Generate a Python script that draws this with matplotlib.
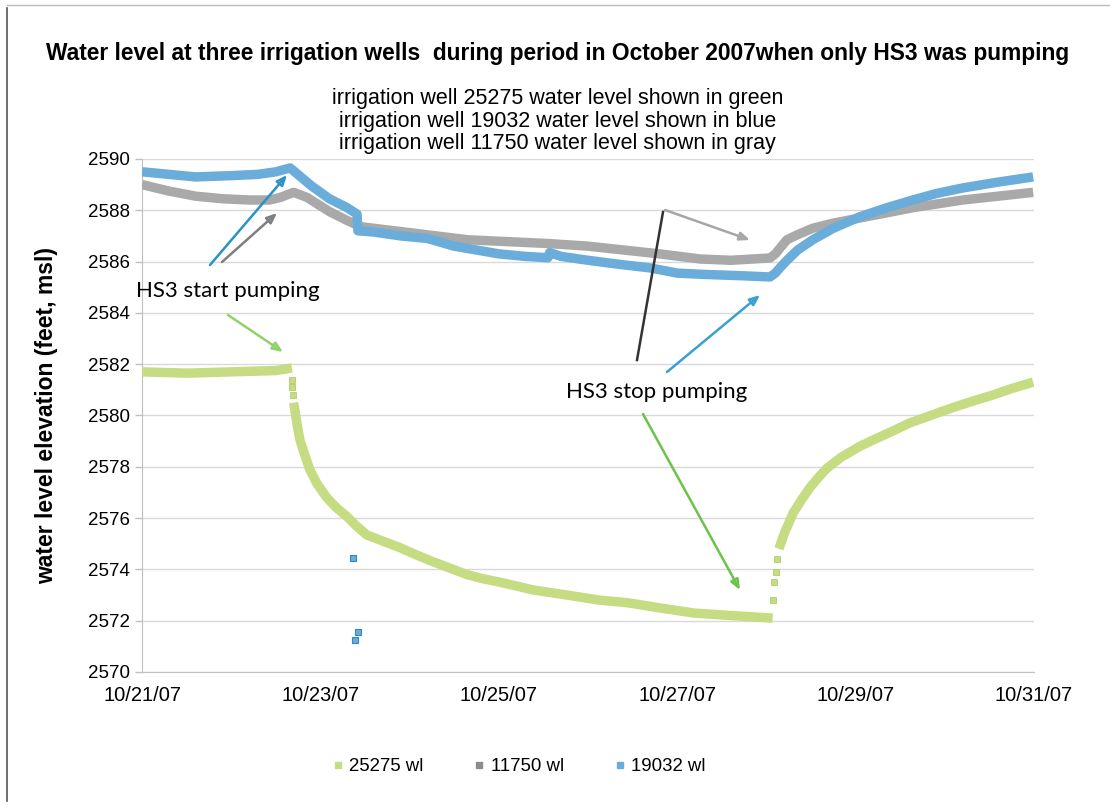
import numpy as np
import pandas as pd
import matplotlib
matplotlib.use("Agg")
from matplotlib import pyplot as plt
import matplotlib.dates as mdates
from matplotlib.lines import Line2D

# days after 10/21/07 and water level (feet, msl)
blue_t = [0.0, 0.3, 0.6, 1.0, 1.3, 1.5, 1.66, 1.9, 2.1, 2.3, 2.41, 2.42, 2.6, 2.9, 3.2,
          3.5, 4.0, 4.3, 4.55, 4.57, 4.7, 5.0, 5.33, 5.7, 6.0, 6.3, 6.7, 7.04, 7.1,
          7.15, 7.23, 7.35, 7.52, 7.75, 8.05, 8.35, 8.64, 8.9, 9.2, 9.6, 9.99]
blue_v = [2589.5, 2589.4, 2589.3, 2589.35, 2589.4, 2589.5, 2589.65, 2588.95, 2588.45,
          2588.1, 2587.85, 2587.2, 2587.15, 2587.0, 2586.9, 2586.6, 2586.3, 2586.2,
          2586.15, 2586.35, 2586.2, 2586.05, 2585.9, 2585.75, 2585.55, 2585.5, 2585.45,
          2585.4, 2585.55, 2585.75, 2586.05, 2586.45, 2586.85, 2587.3, 2587.75, 2588.1,
          2588.4, 2588.65, 2588.87, 2589.1, 2589.3]
blue_out_t = [2.37, 2.39, 2.42]
blue_out_v = [2574.45, 2571.25, 2571.55]

gray_t = [0.0, 0.3, 0.6, 0.9, 1.2, 1.43, 1.55, 1.7, 1.85, 2.1, 2.3, 2.45, 2.9, 3.65,
          4.57, 5.0, 5.8, 6.26, 6.6, 7.04, 7.1, 7.17, 7.23, 7.35, 7.52, 7.75, 8.05,
          8.35, 8.64, 9.2, 9.6, 9.99]
gray_v = [2589.0, 2588.75, 2588.55, 2588.45, 2588.4, 2588.4, 2588.5, 2588.7, 2588.5,
          2587.95, 2587.6, 2587.36, 2587.17, 2586.85, 2586.7, 2586.6, 2586.3, 2586.1,
          2586.05, 2586.14, 2586.3, 2586.6, 2586.85, 2587.05, 2587.3, 2587.5, 2587.7,
          2587.9, 2588.1, 2588.4, 2588.55, 2588.7]

green_flat_t = [0.0, 0.5, 1.0, 1.5, 1.68]
green_flat_v = [2581.7, 2581.65, 2581.7, 2581.75, 2581.85]
green_drop_t = [1.68, 1.685, 1.69]
green_drop_v = [2581.4, 2581.1, 2580.8]
green_fall_t = [1.70, 1.74, 1.77, 1.82, 1.88, 1.96, 2.07, 2.18, 2.3, 2.4, 2.52, 2.7,
                2.89, 3.05, 3.26, 3.45, 3.64, 3.8, 4.01, 4.2, 4.38, 4.76, 5.13, 5.44,
                5.8, 6.18, 6.6, 7.07]
green_fall_v = [2580.5, 2579.6, 2579.05, 2578.5, 2577.9, 2577.35, 2576.8, 2576.4,
                2576.05, 2575.7, 2575.34, 2575.1, 2574.85, 2574.6, 2574.3, 2574.05,
                2573.8, 2573.65, 2573.5, 2573.35, 2573.2, 2573.0, 2572.8, 2572.7,
                2572.5, 2572.3, 2572.2, 2572.1]
green_jump_t = [7.07, 7.09, 7.11, 7.12]
green_jump_v = [2572.8, 2573.5, 2573.9, 2574.4]
green_rise_t = [7.14, 7.2, 7.25, 7.3, 7.4, 7.49, 7.6, 7.68, 7.85, 8.05, 8.2, 8.42,
                8.6, 8.8, 9.0, 9.17, 9.35, 9.54, 9.75, 9.99]
green_rise_v = [2574.8, 2575.4, 2575.8, 2576.2, 2576.75, 2577.2, 2577.65, 2577.95,
                2578.4, 2578.8, 2579.05, 2579.4, 2579.7, 2579.95, 2580.2, 2580.4,
                2580.6, 2580.8, 2581.05, 2581.3]

start = pd.Timestamp("2007-10-21")


def days(t):
    return start + pd.to_timedelta(np.asarray(t), unit="D")


GREEN = "#c5dc82"
GRAY = "#a9a9a9"
BLUE = "#6badda"

fig = plt.figure(figsize=(11.15, 8.09), dpi=100)
ax = fig.add_axes([0.1274, 0.1694, 0.80, 0.6341])

lw = 6.8
for t, v in [(green_flat_t, green_flat_v), (green_fall_t, green_fall_v),
             (green_rise_t, green_rise_v)]:
    ax.plot(days(t), v, color=GREEN, lw=lw, solid_capstyle="butt", zorder=3)
for t, v in [(green_drop_t, green_drop_v), (green_jump_t, green_jump_v)]:
    ax.plot(days(t), v, "s", color=GREEN, ms=4, mec="#b3cc6c", mew=0.6, zorder=3)
ax.plot(days(gray_t), gray_v, color=GRAY, lw=lw, solid_capstyle="butt", zorder=3)
ax.plot(days(blue_t), blue_v, color=BLUE, lw=lw, solid_capstyle="butt", zorder=4)
ax.plot(days(blue_out_t), blue_out_v, "s", color=BLUE, ms=4.5, mec="#2f86c4", mew=0.8,
        zorder=4)

ax.set_xlim(days([0.0])[0], days([10.0])[0])
ax.set_ylim(2570, 2590)
ax.set_yticks(np.arange(2570, 2591, 2))
ax.xaxis.set_major_locator(mdates.DayLocator(bymonthday=[21, 23, 25, 27, 29, 31]))
ax.xaxis.set_major_formatter(mdates.DateFormatter("%m/%d/%y"))
ax.grid(axis="y", color="#d9d9d9", lw=1)
ax.set_axisbelow(True)
for s in ["top", "right"]:
    ax.spines[s].set_visible(False)
for s in ["left", "bottom"]:
    ax.spines[s].set_color("#bfbfbf")
ax.tick_params(axis="both", colors="#bfbfbf", labelcolor="black", labelsize=13.5,
               length=5, width=1, labelfontfamily="Liberation Sans")
ax.tick_params(axis="x", pad=10, length=0, labelsize=14.5)
ax.set_ylabel("water level elevation (feet, msl)", fontsize=16.5, fontweight="bold",
              family="Liberation Sans", labelpad=22)

fig.text(0.5, 0.934, "Water level at three irrigation wells  during period in October 2007"
         "when only HS3 was pumping", ha="center", va="center", fontsize=16.4,
         family="Liberation Sans", fontweight="bold")
fig.text(0.5, 0.8504, "irrigation well 25275 water level shown in green\n"
         "irrigation well 19032 water level shown in blue\n"
         "irrigation well 11750 water level shown in gray",
         ha="center", va="center", fontsize=15.5, linespacing=1.1,
         family="Liberation Sans")


def px(x, y):
    return (x / 1115, 1 - y / 809)


def arrow(x0, y0, x1, y1, color):
    ax.annotate("", xy=px(x1, y1), xytext=px(x0, y0), xycoords="figure fraction",
                textcoords="figure fraction",
                arrowprops=dict(arrowstyle="-|>,head_length=0.6,head_width=0.25",
                                color=color, lw=1.8, shrinkA=0, shrinkB=0, fill=False),
                annotation_clip=False, zorder=6)


ax.annotate("HS3 start pumping", xy=px(228, 291), xycoords="figure fraction",
            ha="center", va="center", fontsize=16, family="Lato", zorder=6,
            annotation_clip=False)
ax.annotate("HS3 stop pumping", xy=px(657, 392), xycoords="figure fraction",
            ha="center", va="center", fontsize=16, family="Lato", zorder=6,
            annotation_clip=False)

arrow(210, 265, 287, 175, "#2b93c8")
arrow(222, 262, 277, 213, "#7f7f7f")
arrow(228, 315, 283, 352, "#8fd26a")
arrow(665, 210, 750, 240, "#a6a6a6")
arrow(667, 372, 760, 295, "#3aa0d2")
arrow(643, 414, 740, 590, "#6cc24a")
fig.add_artist(Line2D([663 / 1115, 637 / 1115], [1 - 212 / 809, 1 - 360 / 809],
                      color="#333333", lw=1.8))

handles = [Line2D([], [], ls="", marker="s", ms=5, color=GREEN),
           Line2D([], [], ls="", marker="s", ms=5, color="#8c8c8c"),
           Line2D([], [], ls="", marker="s", ms=5, color=BLUE)]
fig.legend(handles, ["25275 wl", "11750 wl", "19032 wl"], loc="center",
           bbox_to_anchor=(0.4637, 0.052), ncol=3, frameon=False,
           handletextpad=0.1, columnspacing=2.5, handlelength=1.0,
           prop={"family": "Liberation Sans", "size": 13.4})

# scanned page border
fig.add_artist(Line2D([0.0063, 0.0063], [0.01, 0.99], color="#555555", lw=1.2))
fig.add_artist(Line2D([0.0063, 0.995], [0.994, 0.994], color="#bbbbbb", lw=1.0))

fig.savefig("out.png", dpi=100)
